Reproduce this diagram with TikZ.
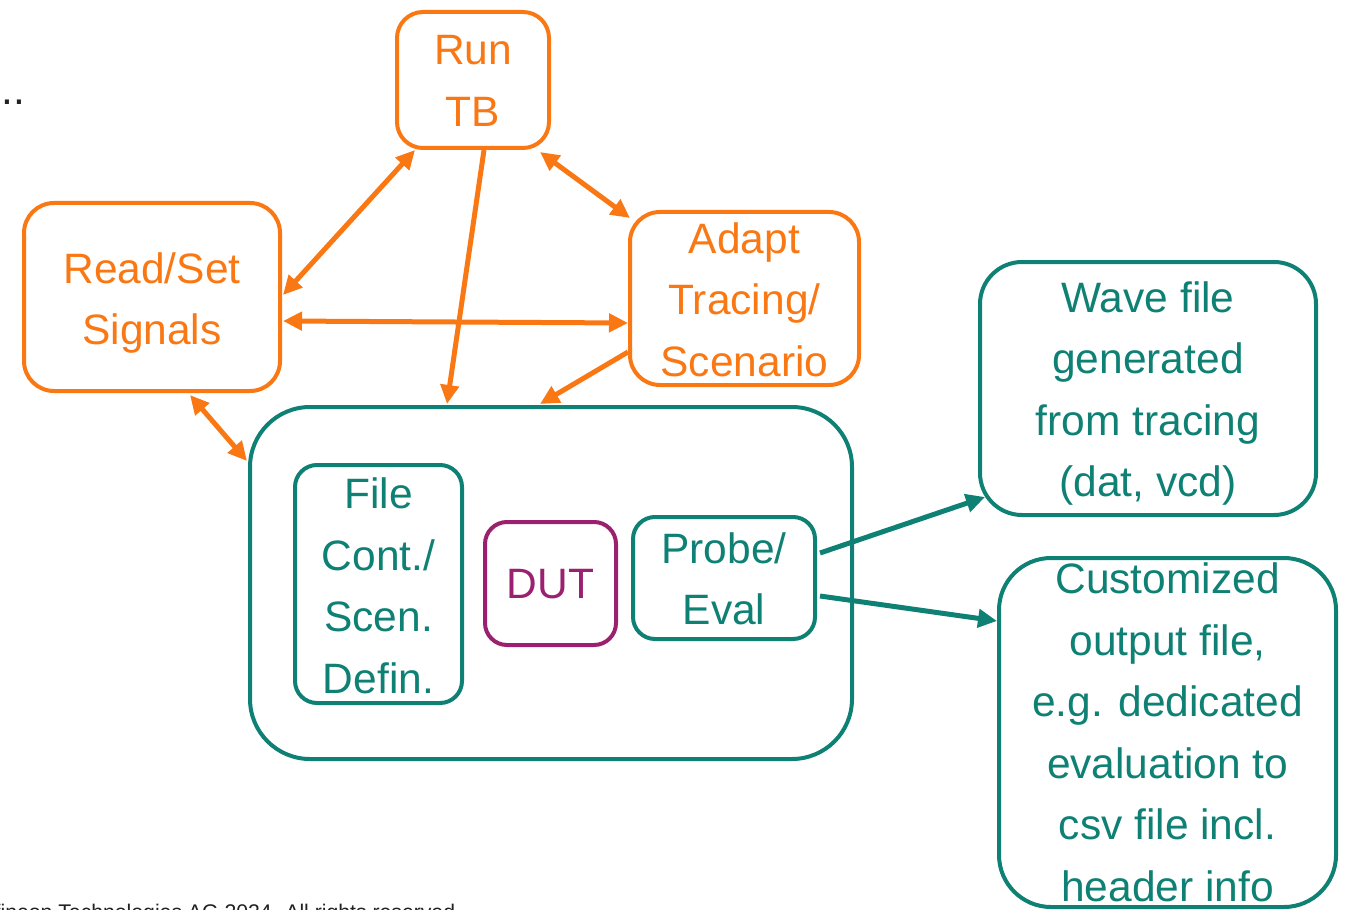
\documentclass[tikz,border=0pt]{standalone}
\usepackage{fontspec}
\setmainfont{Liberation Sans}
\usetikzlibrary{arrows.meta,calc}
\definecolor{ifxorange}{HTML}{FA7814}
\definecolor{ifxteal}{HTML}{0E8174}
\definecolor{ifxberry}{HTML}{9B2170}
\definecolor{ifxdark}{HTML}{222222}
\tikzset{
  txt/.style={font=\fontsize{21.25pt}{30.75pt}\selectfont, align=center, inner sep=0pt},
  obox/.style={draw=ifxorange, line width=2pt, rectangle, inner sep=0pt},
  tbox/.style={draw=ifxteal, line width=2pt, rectangle, inner sep=0pt},
  pbox/.style={draw=ifxberry, line width=2pt, rectangle, inner sep=0pt},
  otxt/.style={txt, text=ifxorange},
  ttxt/.style={txt, text=ifxteal},
  ptxt/.style={txt, text=ifxberry},
  oarr/.style={draw=ifxorange, line width=2.5pt, -{Triangle[length=9.5pt,width=9pt]}},
  oarrb/.style={draw=ifxorange, line width=2.5pt, {Triangle[length=9.5pt,width=9pt]}-{Triangle[length=9.5pt,width=9pt]}},
  tarr/.style={draw=ifxteal, line width=2.5pt, -{Triangle[length=9.5pt,width=9pt]}},
}
\begin{document}
\begin{tikzpicture}[x=0.5pt,y=-0.5pt]
\useasboundingbox (0,0) rectangle (1347,909);
\clip (0,0) rectangle (1347,909);

% boxes
\node[obox, rounded corners=13pt, minimum width=76pt, minimum height=68pt] (run) at (473,80) {};
\node[obox, rounded corners=15pt, minimum width=128pt, minimum height=94pt] (read) at (152,297) {};
\node[obox, rounded corners=15pt, minimum width=114.5pt, minimum height=86.5pt] (adapt) at (744.5,298.5) {};
\node[tbox, rounded corners=30pt, minimum width=301pt, minimum height=176pt] (big) at (551,583) {};
\node[tbox, rounded corners=11pt, minimum width=83.5pt, minimum height=119pt] (file) at (378.5,584) {};
\node[pbox, rounded corners=11pt, minimum width=65.5pt, minimum height=61.5pt] (dut) at (550.5,583.5) {};
\node[tbox, rounded corners=11pt, minimum width=91pt, minimum height=61pt] (probe) at (724,578) {};
\node[tbox, rounded corners=21pt, minimum width=168pt, minimum height=126.5pt] (wave) at (1148,388.5) {};
\node[tbox, rounded corners=26pt, minimum width=168.5pt, minimum height=174.5pt] (cust) at (1167.5,732.5) {};

% texts
\node[otxt] (runt) at ($(run)+(0,1)$) {Run\\TB};
\node[otxt] (readt) at ($(read)+(0,6)$) {Read/Set\\Signals};
\node[otxt] (adaptt) at ($(adapt)+(0,1)$) {Adapt\\Tracing/\\Scenario};
\node[ttxt] (filet) at ($(file)+(0,2)$) {File\\Cont./\\Scen.\\Defin.};
\node[ptxt] (dutt) at ($(dut)+(0,1)$) {DUT};
\node[ttxt] (probet) at ($(probe)+(0,1)$) {Probe/\\Eval};
\node[ttxt] (wavet) at ($(wave)+(0,5)$) {Wave file\\generated\\from tracing\\(dat, vcd)};
\node[ttxt] (custt) at ($(cust)+(0,0)$) {Customized\\output file,\\e.g. dedicated\\evaluation to\\csv file incl.\\header info};

% orange connectors
\draw[oarrb] ($(run.south west)+(20,0)$) -- ($(read.east)+(1,-2)$);
\draw[oarrb] ($(run.south east)+(-11,2)$) -- ($(adapt.north west)+(2,8)$);
\draw[oarrb] ($(read.east)+(1,24)$) -- ($(adapt.west)+(0,24.5)$);
\draw[oarrb] ($(read.south)+(38,2)$) -- ($(big.north west)+(-1,56)$);
\draw[oarr] ($(run.south)+(11,0)$) -- ($(big.north)+(-104,-1)$);
\draw[oarr] ($(adapt.west)+(0,53.5)$) -- ($(big.north)+(-11,-1)$);

% teal connectors
\draw[tarr] ($(probe.east)+(3,-25)$) -- ($(wave.south west)+(7,-20)$);
\draw[tarr] ($(probe.east)+(3,18)$) -- ($(cust.north west)+(0,65)$);

% fragments at the edges
\node[font=\fontsize{21.25pt}{31pt}\selectfont, text=ifxdark, anchor=base east, inner sep=0pt] (dots) at (26,105) {...};
\node[font=\fontsize{10.6pt}{12pt}\selectfont, text=ifxdark, anchor=base west, inner sep=0pt] (foot) at (58,919) {\llap{Copyright © Infineon }Technologies AG 2024. All rights reserved.};
\end{tikzpicture}
\end{document}
